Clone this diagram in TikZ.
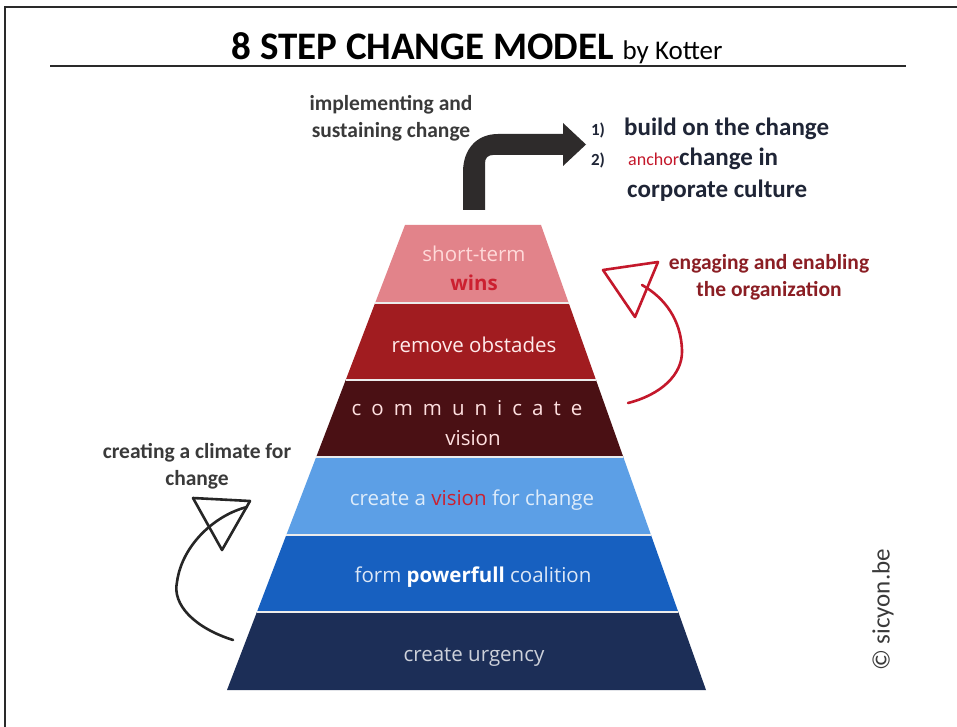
\documentclass[tikz,border=0pt]{standalone}
\usepackage{fontspec}
\setmainfont{Carlito}
\newfontfamily\layerfont{Open Sans}
\usetikzlibrary{calc}
\definecolor{frameC}{HTML}{2A2A2A}
\definecolor{labelC}{HTML}{3A3A3A}
\definecolor{engC}{HTML}{8B1E24}
\definecolor{listC}{HTML}{1F2536}
\definecolor{arrowC}{HTML}{2E2B2B}
\definecolor{redC}{HTML}{C4182B}
\definecolor{winsC}{HTML}{CC2030}
\definecolor{lA}{HTML}{E2838A}
\definecolor{lB}{HTML}{A11C20}
\definecolor{lC}{HTML}{4A1014}
\definecolor{lD}{HTML}{5C9FE6}
\definecolor{lE}{HTML}{1760C0}
\definecolor{lF}{HTML}{1C2E57}
\begin{document}
\begin{tikzpicture}[x=1pt,y=-1pt,
  lbl/.style={font=\fontsize{21.5}{27}\selectfont\bfseries, text=labelC, align=center, inner sep=0pt},
  lst/.style={font=\fontsize{25}{28}\selectfont\bfseries, text=listC, inner sep=0pt, anchor=base west},
  num/.style={font=\fontsize{17}{20}\selectfont\bfseries, text=listC, inner sep=0pt, anchor=base},
  lay/.style={font=\layerfont\fontsize{20.5}{24}\selectfont, inner sep=0pt},
  sep/.style={draw=white!85!gray, line width=1.6pt},
  hand/.style={line width=2.6pt, line cap=round, line join=round}]
\useasboundingbox (0,0) rectangle (957,727);
\fill[white] (0,0) rectangle (957,727);
% frame
\draw[frameC, line width=2pt] (5,727) -- (5,7) -- (957,7);
% title
\node[anchor=base, inner sep=0pt] (title) at (477,60)
  {\fontsize{39}{44}\selectfont\bfseries 8 STEP CHANGE MODEL\ \mdseries\fontsize{27}{30}\selectfont by Kotter};
\coordinate (ulA) at (50,66);
\coordinate (ulB) at (906,66);
\draw[frameC, line width=2.6pt] (ulA) -- (ulB);
% pyramid layers
\fill[lA] (405,225) -- (541,225) -- (568.7,303) -- (375.1,303) -- cycle;
\fill[lB] (375.1,303) -- (568.7,303) -- (596,380) -- (345.7,380) -- cycle;
\fill[lC] (345.7,380) -- (596,380) -- (623.3,457) -- (316.2,457) -- cycle;
\fill[lD] (316.2,457) -- (623.3,457) -- (651,535) -- (286.3,535) -- cycle;
\fill[lE] (286.3,535) -- (651,535) -- (678.3,612) -- (256.9,612) -- cycle;
\fill[lF] (256.9,612) -- (678.3,612) -- (706,690) -- (227,690) -- cycle;
\draw[sep] (375.1,303) -- (568.7,303);
\draw[sep] (345.7,380) -- (596,380);
\draw[sep] (316.2,457) -- (623.3,457);
\draw[sep] (286.3,535) -- (651,535);
\draw[sep] (256.9,612) -- (678.3,612);
% layer texts
\node[lay, text=red!15!white] (s1a) at (474,254) {short-term};
\node[lay, text=winsC, font=\layerfont\fontsize{20.5}{24}\selectfont\bfseries] (s1b) at (474,283) {wins};
\node[lay, text=white!92!red] (s2) at (474,345) {remove obstades};
\node[lay, text=white!88!red] (s3a) at (467,408) {c\hskip10pt o\hskip10pt m\hskip10pt m\hskip10pt u\hskip10pt n\hskip10pt i\hskip10pt c\hskip10pt a\hskip10pt t\hskip10pt e};
\node[lay, text=white!88!red] (s3b) at (473,438) {vision};
\node[lay, text=white!80!lD] (s4) at (472,500) {create a \textcolor{winsC}{vision} for change};
\node[lay, text=white!85!lE] (s5) at (473,577) {form \textbf{\textcolor{white}{powerfull}} coalition};
\node[lay, text=white!78!lF] (s6) at (474,657) {create urgency};
% big bent arrow
\fill[arrowC] (463,210) -- (463,172)
  .. controls (463,150) and (476,134) .. (498,134)
  -- (563,134) -- (563,123) -- (586,144.5) -- (563,166) -- (563,155)
  -- (493,155) .. controls (488,155) and (485,158) .. (485,163)
  -- (485,210) -- cycle;
% labels
\node[lbl] (impl) at (391,118) {implementing and\\sustaining change};
\node[lbl] (climate) at (197,466) {creating a climate for\\change};
\node[lbl, text=engC] (engage) at (769,277) {engaging and enabling\\the organization};
% list
\node[num] (n1) at (598,136) {1)};
\node[lst] (l1) at (624,136) {build on the change};
\node[num] (n2) at (598,166) {2)};
\node[lst] (l2) at (628,166) {\textcolor{redC}{\mdseries\fontsize{18}{20}\selectfont anchor}change in};
\node[lst] (l3) at (627,198) {corporate culture};
% red hand-drawn arrow
\coordinate (rS) at (628,403);
\coordinate (rM) at (682,350);
\coordinate (rE) at (642,285);
\draw[redC, hand] (rS) .. controls (660,395) and (683,375) .. (rM)
  .. controls (681,320) and (665,298) .. (rE);
\draw[redC, hand] (603,270) -- (658,262) -- (635,317) -- cycle;
% black hand-drawn arrow
\coordinate (bS) at (233,640);
\coordinate (bM) at (177,582);
\coordinate (bE) at (247,507);
\draw[black!85, hand] (bS) .. controls (195,628) and (172,605) .. (bM)
  .. controls (182,545) and (215,515) .. (bE);
\draw[black!85, hand] (193,498) -- (250,501) -- (222,550) -- cycle;
% copyright
\node[rotate=90, inner sep=0pt, text=labelC, font=\fontsize{25}{28}\selectfont] (copy) at (883,610) {\textcopyright\ sicyon.be};
\end{tikzpicture}
\end{document}
